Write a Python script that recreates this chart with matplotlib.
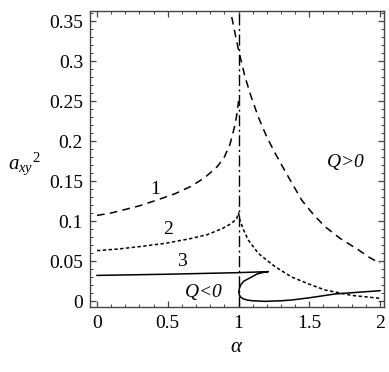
import matplotlib
matplotlib.use("Agg")
import matplotlib.pyplot as plt
from matplotlib.ticker import MultipleLocator

plt.rcParams["font.family"] = ["Liberation Serif", "DejaVu Serif"]
plt.rcParams["mathtext.fontset"] = "custom"
plt.rcParams["mathtext.rm"] = "Liberation Serif"
plt.rcParams["mathtext.it"] = "Liberation Serif:italic"

# curve 1 (long dashes), two branches
c1a_x = [0.0, 0.1, 0.19, 0.3, 0.42, 0.55, 0.66, 0.76, 0.85, 0.9, 0.94, 0.975, 0.99, 1.0]
c1a_y = [0.107, 0.110, 0.114, 0.119, 0.126, 0.134, 0.143, 0.154, 0.168, 0.180, 0.196, 0.220, 0.235, 0.25]
c1b_x = [0.952, 0.975, 1.0, 1.046, 1.09, 1.14, 1.2, 1.258, 1.33, 1.447, 1.53, 1.611, 1.72, 1.847, 1.92, 2.0]
c1b_y = [0.355, 0.335, 0.314, 0.280, 0.255, 0.230, 0.205, 0.185, 0.162, 0.126, 0.108, 0.093, 0.078, 0.064, 0.055, 0.047]

# curve 2 (short dashes)
c2_x = [0.0, 0.15, 0.30, 0.48, 0.66, 0.78, 0.89, 0.95, 0.987, 1.0,
        1.01, 1.035, 1.07, 1.14, 1.2, 1.258, 1.375, 1.5, 1.611, 1.8, 2.0]
c2_y = [0.063, 0.065, 0.068, 0.072, 0.078, 0.083, 0.091, 0.097, 0.103, 0.11,
        0.101, 0.089, 0.076, 0.0596, 0.051, 0.043, 0.030, 0.021, 0.0138, 0.007, 0.0034]

# curve 3 (solid), folds back at alpha ~ 1.21
c3_x = [0.0, 0.5, 0.987, 1.21, 1.17, 1.13, 1.093, 1.06, 1.035, 1.015, 1.005, 1.002,
        1.005, 1.015, 1.03, 1.06, 1.1, 1.187, 1.3, 1.375, 1.5, 1.68, 1.85, 2.0]
c3_y = [0.032, 0.0335, 0.0354, 0.0367, 0.0355, 0.0337, 0.030, 0.027, 0.0245, 0.020, 0.015, 0.0116,
        0.008, 0.005, 0.003, 0.0012, 0.0003, -0.0004, 0.0003, 0.00125, 0.004, 0.00875, 0.011, 0.0129]

labels = ["1", "2", "3"]
label_x = [0.41, 0.502, 0.598]
label_y = [0.139, 0.090, 0.049]

fig = plt.figure(figsize=(3.89, 3.72), dpi=100)
ax = fig.add_axes([0.2314, 0.1747, 0.7557, 0.7957])

kw = dict(color="black", lw=1.1, dash_joinstyle="round", solid_joinstyle="round")
ax.plot(c1a_x, c1a_y, dashes=(5, 3.5), **kw)
ax.plot(c1b_x, c1b_y, dashes=(5, 3.5), **kw)
ax.plot(c2_x, c2_y, dashes=(2.2, 1.6), **kw)
ax.plot(c3_x, c3_y, **kw)
ax.axvline(1.0, color="black", lw=1.0, dashes=(8, 2.5, 1.5, 2.5))

for t, x, y in zip(labels, label_x, label_y):
    ax.text(x, y, t, fontsize=14, ha="center", va="center")
ax.text(0.75, 0.0116, "$Q$<0", fontsize=14, ha="center", va="center",
        fontstyle="italic")
ax.text(1.753, 0.174, "$Q$>0", fontsize=14, ha="center", va="center",
        fontstyle="italic")

ax.set_xlim(-0.0495, 2.028)
ax.set_ylim(-0.0075, 0.3625)
ax.xaxis.set_minor_locator(MultipleLocator(0.1))
ax.yaxis.set_minor_locator(MultipleLocator(0.01))
ax.set_xticks([0, 0.5, 1, 1.5, 2], ["0", "0.5", "1", "1.5", "2"])
ax.set_yticks([0, 0.05, 0.1, 0.15, 0.2, 0.25, 0.3, 0.35],
              ["0", "0.05", "0.1", "0.15", "0.2", "0.25", "0.3", "0.35"])
ax.tick_params(which="both", direction="in", top=True, right=True,
               color="#444444", labelsize=14)
ax.tick_params(which="major", length=4, width=0.9)
ax.tick_params(which="minor", length=2, width=0.7)
ax.tick_params(axis="x", pad=6)
ax.tick_params(axis="y", pad=5)
for s in ax.spines.values():
    s.set_color("#444444")
    s.set_linewidth(1.0)

ax.set_xlabel(r"$\alpha$", fontsize=15, labelpad=4)
ax.set_ylabel(r"$a_{xy}{}^{2}$", fontsize=15, rotation=0, va="center", ha="center")
ax.yaxis.set_label_coords(-0.225, 0.485)

fig.savefig("out.png", dpi=100)
